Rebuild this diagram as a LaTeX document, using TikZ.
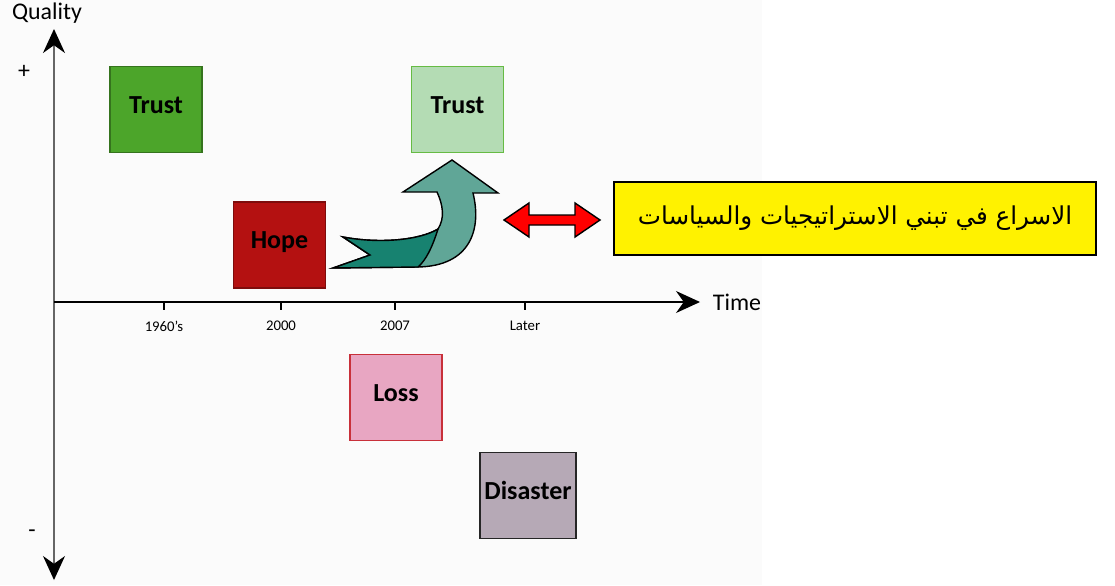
\documentclass[tikz,border=0pt]{standalone}
\usepackage{fontspec}
\setmainfont{Carlito}
\newfontfamily\arabicfont[Script=Arabic]{DejaVu Sans}
\TeXXeTstate=1
\usetikzlibrary{arrows.meta, positioning}

\definecolor{trustdark}{HTML}{4CA52A}
\definecolor{trustlight}{HTML}{B4DCB4}
\definecolor{trustedge}{HTML}{66BB44}
\definecolor{hopered}{HTML}{B41111}
\definecolor{losspink}{HTML}{E8A6C2}
\definecolor{lossedge}{HTML}{C8303A}
\definecolor{disgray}{HTML}{B6A9B6}
\definecolor{tealL}{HTML}{60A697}
\definecolor{tealD}{HTML}{178270}

\begin{document}
\begin{tikzpicture}[
    x=0.025cm, y=-0.025cm,
    statebox/.style={rectangle, draw, line width=1.3pt, minimum width=2.3cm, minimum height=2.15cm, text depth=7pt, font=\fontsize{18.5}{20}\selectfont\bfseries},
    axis/.style={line width=1pt, -{Stealth[length=0.6cm, width=0.55cm, color=black]}},
    tick/.style={line width=0.8pt},
    ticklbl/.style={font=\fontsize{10.5}{12}\selectfont},
    axlbl/.style={font=\fontsize{17}{19}\selectfont}
]
    \useasboundingbox (0,0) rectangle (1115,585);
    \fill[gray!3] (0,0) rectangle (762,585);

    % Axes
    \coordinate (o) at (54,302);
    \coordinate (qtop) at (54,29);
    \coordinate (qbot) at (54,580);
    \coordinate (tend) at (700,302);
    \draw[axis, black!60] (o) -- (qtop);
    \draw[axis, black!60] (o) -- (qbot);
    \draw[axis] (o) -- (tend);
    \node[axlbl] (qlbl) at (47,13) {Quality};
    \node[axlbl, anchor=west] (tlbl) at (708,302) {Time};
    \node[axlbl] (plus) at (24,72) {+};
    \node[axlbl] (minus) at (32,534) {-};

    % Ticks
    \foreach \x/\t in {164/1960's, 281/2000, 395/2007, 525/Later} {
        \draw[tick] (\x,302) -- (\x,310);
        \node[ticklbl] at (\x,326) {\t};
    }

    % States
    \node[statebox, fill=trustdark, draw=trustdark!70!black] (trust1) at (156,109.5) {Trust};
    \node[statebox, fill=trustlight, draw=trustedge] (trust2) at (457.5,109.5) {Trust};
    \node[statebox, fill=hopered, draw=hopered!70!black] (hope) at (279.5,245) {Hope};
    \node[statebox, fill=losspink, draw=lossedge] (loss) at (396,397.5) {Loss};
    \node[statebox, fill=disgray, draw=black!85] (disaster) at (528,495.5) {Disaster};

    % Curved arrow from hope up to trust
    \filldraw[fill=tealL, line width=1pt] (452,160) -- (498,193) -- (473,193)
        .. controls (482,230) and (470,266) .. (418,267) -- (333,268) -- (370,255) -- (343,237)
        .. controls (380,244) and (420,240) .. (438,229)
        .. controls (445,218) and (443,205) .. (437,192) -- (403,192) -- cycle;
    \filldraw[fill=tealD, line width=1pt] (333,268) -- (370,255) -- (343,237)
        .. controls (380,244) and (420,240) .. (438,229)
        .. controls (432,248) and (426,260) .. (418,267) -- cycle;

    % Red double arrow
    \filldraw[fill=red, line width=1pt] (504,220) -- (529,203) -- (529,215) -- (575,215) -- (575,203)
        -- (600,220) -- (575,237) -- (575,225) -- (529,225) -- (529,237) -- cycle;

    % Note
    \node[draw, line width=1pt, fill=yellow, minimum width=12.05cm, minimum height=1.825cm] (note) at (855,218.5)
        {\arabicfont\fontsize{17.5}{20}\selectfont\beginR الاسراع في تبني الاستراتيجيات والسياسات\endR};
\end{tikzpicture}
\end{document}
